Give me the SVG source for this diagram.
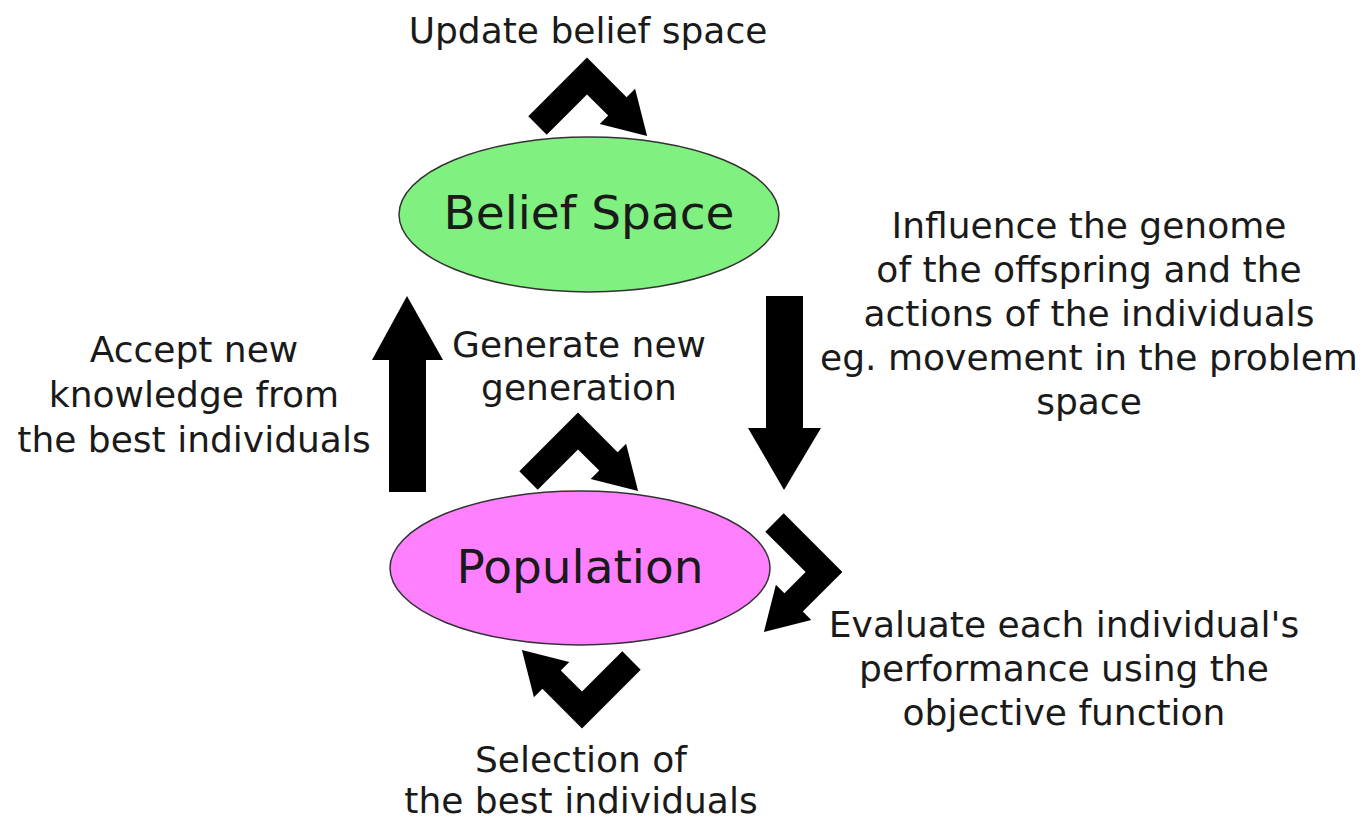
<svg xmlns="http://www.w3.org/2000/svg" width="1367" height="822" viewBox="0 0 1367 822">
<style>
  text { font-family: "DejaVu Sans", "Liberation Sans", sans-serif; fill: #1a1a1a; text-anchor: middle; }
  .lbl { font-size: 36px; }
  .big { font-size: 47px; }
  .arrow { fill: #000; }
</style>
<defs>
  <polygon id="bent" points="-58.7,40.3 0,-18.4 39.6,21.2 48.1,12.7 60.1,60.1 12.7,48.1 21.2,39.6 0,18.4 -40.3,58.7"/>
</defs>
<rect width="1367" height="822" fill="#fff"/>
<g id="belief">
  <ellipse cx="589" cy="214.5" rx="190" ry="77.5" fill="#80f080" stroke="#333" stroke-width="1.5"/>
  <text class="big" x="589" y="229">Belief Space</text>
</g>
<g id="population">
  <ellipse cx="580" cy="568" rx="190" ry="77" fill="#ff80ff" stroke="#333" stroke-width="1.5"/>
  <text class="big" x="580" y="583">Population</text>
</g>
<g id="connectors" class="arrow">
  <use href="#bent" transform="translate(587,76)"/>
  <use href="#bent" transform="translate(578,431)"/>
  <use href="#bent" transform="translate(582,710) rotate(180)"/>
  <use href="#bent" transform="translate(824,572) rotate(90)"/>
  <polygon points="389,492 389,360 372,360 407,296 443,360 426,360 426,492"/>
  <polygon points="766,296 803,296 803,428 821,428 784,490 748,428 766,428"/>
</g>
<g id="labels" class="lbl">
  <text x="588" y="43">Update belief space</text>
  <text x="194" y="362">Accept new</text>
  <text x="194" y="407">knowledge from</text>
  <text x="194" y="452">the best individuals</text>
  <text x="579" y="357">Generate new</text>
  <text x="579" y="400">generation</text>
  <text x="1089" y="238">Influence the genome</text>
  <text x="1089" y="282">of the offspring and the</text>
  <text x="1089" y="326">actions of the individuals</text>
  <text x="1089" y="370">eg. movement in the problem</text>
  <text x="1089" y="414">space</text>
  <text x="1064" y="637">Evaluate each individual's</text>
  <text x="1064" y="681">performance using the</text>
  <text x="1064" y="725">objective function</text>
  <text x="581" y="772">Selection of</text>
  <text x="581" y="813">the best individuals</text>
</g>
</svg>
